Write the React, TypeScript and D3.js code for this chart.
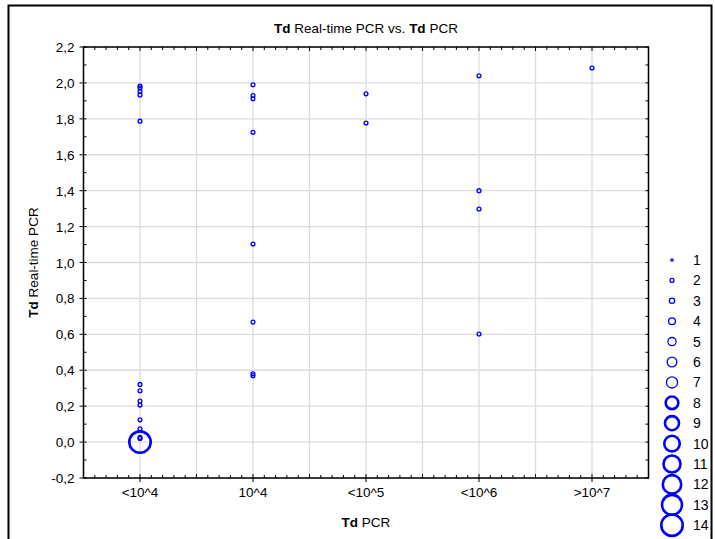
import React from "react";
import * as d3 from "d3";

const categories = ["<10^4", "10^4", "<10^5", "<10^6", ">10^7"];
const yTicks = [-0.2, 0, 0.2, 0.4, 0.6, 0.8, 1.0, 1.2, 1.4, 1.6, 1.8, 2.0, 2.2];
const legendCounts = [1, 2, 3, 4, 5, 6, 7, 8, 9, 10, 11, 12, 13, 14];

// [category index, value, count]
const pointsCat0 = [
  [0, 1.983, 2], [0, 1.972, 2], [0, 1.952, 2], [0, 1.933, 2], [0, 1.787, 2],
  [0, 0.321, 2], [0, 0.286, 2], [0, 0.228, 2], [0, 0.206, 2], [0, 0.124, 2],
  [0, 0.074, 2], [0, 0.026, 2], [0, 0.02, 2], [0, 0.0, 14],
];
const pointsCat1 = [
  [1, 1.99, 2], [1, 1.93, 2], [1, 1.912, 2], [1, 1.725, 2], [1, 1.103, 2],
  [1, 0.668, 2], [1, 0.38, 2], [1, 0.37, 2],
];
const pointsCat2 = [[2, 1.939, 2], [2, 1.777, 2]];
const pointsCat3 = [[3, 2.04, 2], [3, 1.40, 2], [3, 1.298, 2], [3, 0.602, 2]];
const pointsCat4 = [[4, 2.083, 2]];

const allPoints = [...pointsCat0, ...pointsCat1, ...pointsCat2, ...pointsCat3, ...pointsCat4];

const FONT = "'Liberation Sans', Arial, sans-serif";
const BLUE = "#0000ff";

export default function App() {
  const left = 83.5, right = 648.5, top = 47, bottom = 478;
  const x = d3.scaleLinear().domain([0.5, 5.5]).range([left, right]);
  const y = d3.scaleLinear().domain([-0.2, 2.2]).range([bottom, top]);
  const r = d3.scaleLinear().domain([1, 14]).range([1.2, 10.7]);
  const sw = (n: number) => (n >= 8 ? 2.6 : 1.3);

  const xGrid = d3.range(0.5, 5.51, 0.5);
  const xMinor = d3.range(0.5, 5.501, 0.1);
  const yMinor = d3.range(-0.2, 2.2001, 0.1);

  return (
    <svg width={715} height={539} style={{ position: "absolute", left: 0, top: 0 }}>
      <rect x={0} y={0} width={715} height={539} fill="white" />
      <rect x={8.5} y={5.5} width={703} height={545} fill="none" stroke="black" strokeWidth={2} />
      <text x={366} y={33} textAnchor="middle" fontFamily={FONT} fontSize={13.5}>
        <tspan fontWeight="bold">Td</tspan> Real-time PCR vs. <tspan fontWeight="bold">Td</tspan> PCR
      </text>
      {yTicks.map((t) => (
        <line key={"gy" + t} x1={left} x2={right} y1={y(t)} y2={y(t)} stroke="#dcdcdc" strokeWidth={1.3} />
      ))}
      {xGrid.map((t) => (
        <line key={"gx" + t} x1={x(t)} x2={x(t)} y1={top} y2={bottom} stroke="#dcdcdc" strokeWidth={1.3} />
      ))}
      {xMinor.map((t, i) => {
        const len = i % 5 === 0 ? 4 : 3;
        return (
          <g key={"xm" + i}>
            <line x1={x(t)} x2={x(t)} y1={bottom} y2={bottom - len} stroke="black" strokeWidth={1} />
            <line x1={x(t)} x2={x(t)} y1={top} y2={top + len} stroke="black" strokeWidth={1} />
          </g>
        );
      })}
      {yMinor.map((t, i) => (
        <g key={"ym" + i}>
          <line x1={left} x2={left + 3} y1={y(t)} y2={y(t)} stroke="black" strokeWidth={1} />
          <line x1={right} x2={right - 3} y1={y(t)} y2={y(t)} stroke="black" strokeWidth={1} />
        </g>
      ))}
      {yTicks.map((t) => (
        <line key={"yt" + t} x1={left - 4} x2={left} y1={y(t)} y2={y(t)} stroke="black" strokeWidth={1} />
      ))}
      {categories.map((c, i) => (
        <line key={"xt" + c} x1={x(i + 1)} x2={x(i + 1)} y1={bottom} y2={bottom + 4} stroke="black" strokeWidth={1} />
      ))}
      <rect x={left} y={top} width={right - left} height={bottom - top} fill="none" stroke="black" strokeWidth={1.5} />
      {yTicks.map((t) => (
        <text key={"yl" + t} x={left - 9} y={y(t) + 5} textAnchor="end" fontFamily={FONT} fontSize={13.5}>
          {d3.format(".1f")(t).replace(".", ",").replace("−", "-")}
        </text>
      ))}
      {categories.map((c, i) => (
        <text key={"xl" + c} x={x(i + 1)} y={497} textAnchor="middle" fontFamily={FONT} fontSize={13.5}>
          {c}
        </text>
      ))}
      <text x={366} y={527} textAnchor="middle" fontFamily={FONT} fontSize={13.5}>
        <tspan fontWeight="bold">Td</tspan> PCR
      </text>
      <text transform={`translate(38,${(top + bottom) / 2}) rotate(-90)`} textAnchor="middle" fontFamily={FONT} fontSize={13.5}>
        <tspan fontWeight="bold">Td</tspan> Real-time PCR
      </text>
      {allPoints.map((p, i) => (
        <circle key={"p" + i} cx={x(p[0] + 1)} cy={y(p[1])} r={r(p[2])} fill="none" stroke={BLUE} strokeWidth={sw(p[2])} />
      ))}
      {legendCounts.map((n, i) => {
        const cy = 260 + i * 20.4;
        return (
          <g key={"lg" + n}>
            <circle cx={672} cy={cy} r={r(n)} fill="none" stroke={BLUE} strokeWidth={sw(n)} />
            <text x={693} y={cy + 5} fontFamily={FONT} fontSize={14}>{n}</text>
          </g>
        );
      })}
    </svg>
  );
}
